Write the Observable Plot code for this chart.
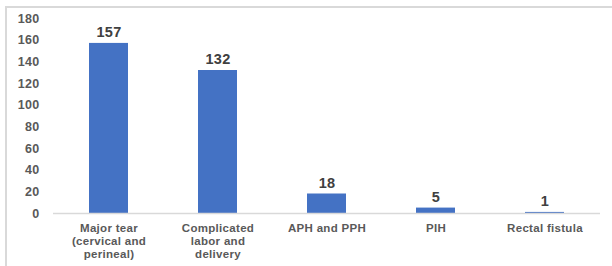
<!DOCTYPE html>
<html>
<head>
<meta charset="utf-8">
<script src="https://cdn.jsdelivr.net/npm/d3@7"></script>
<script src="https://cdn.jsdelivr.net/npm/@observablehq/plot@0.6"></script>
<style>
  html, body { margin: 0; padding: 0; background: #fff; }
  #wrap { position: relative; width: 612px; height: 266px; overflow: hidden; }
  #border { position: absolute; left: 5px; top: 6px; width: 620px; height: 280px; border: 2px solid #d9d9d9; box-sizing: border-box; }
  #chart { position: absolute; left: 0; top: 0; }
  svg text { letter-spacing: 0.3px; }
</style>
</head>
<body>
<div id="wrap"><div id="border"></div><div id="chart"></div></div>
<script>
const categories = ["Major tear\n(cervical and\nperineal)", "Complicated\nlabor and\ndelivery", "APH and PPH", "PIH", "Rectal fistula"];
const values = [157, 132, 18, 5, 1];
const yTicks = [0, 20, 40, 60, 80, 100, 120, 140, 160, 180];

const data = categories.map((c, i) => ({category: c, value: values[i]}));

const chart = Plot.plot({
  width: 612,
  height: 266,
  marginLeft: 53,
  marginRight: 12,
  marginTop: 18,
  marginBottom: 53,
  style: {background: "transparent", fontFamily: "'Liberation Sans', Arial, sans-serif"},
  x: {domain: categories, paddingInner: 0.643, paddingOuter: 0.3215, label: null},
  y: {domain: [0, 180], label: null},
  marks: [
    Plot.axisY(yTicks, {tickSize: 0, tickPadding: 14, fontSize: 12.5, fontWeight: "bold", fill: "#595959", label: null}),
    Plot.axisX({tickSize: 0, tickPadding: 9, fontSize: 11.5, fontWeight: "bold", fill: "#595959", lineHeight: 1.14, textAnchor: "middle", label: null}),
    Plot.barY(data, {x: "category", y: "value", fill: "#4472c4"}),
    Plot.ruleY([0], {stroke: "#d9d9d9", strokeWidth: 1.5}),
    Plot.text(data, {x: "category", y: "value", text: d => String(d.value), dy: -11, fontSize: 14.5, fontWeight: "bold", fill: "#404040"})
  ]
});
document.getElementById("chart").appendChild(chart);
</script>
</body>
</html>
